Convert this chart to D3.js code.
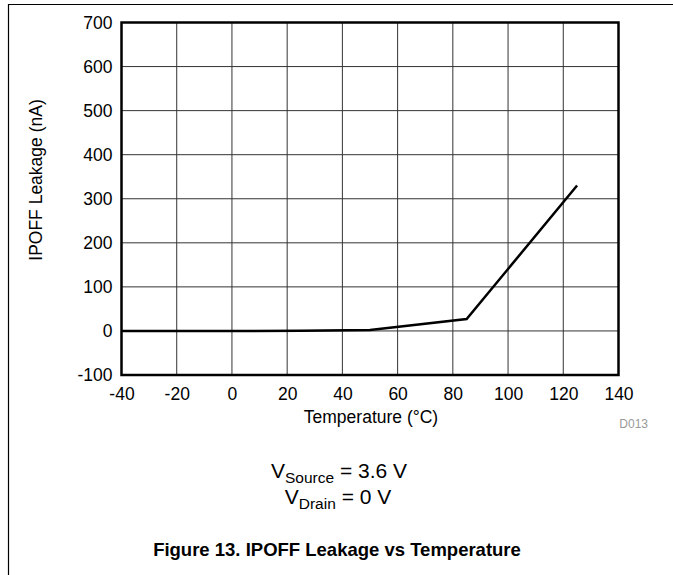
<!DOCTYPE html>
<html>
<head>
<meta charset="utf-8">
<script src="https://cdn.jsdelivr.net/npm/d3@7"></script>
<style>
  html, body { margin: 0; padding: 0; background: #fff; }
  svg { display: block; font-family: "Liberation Sans", Arial, sans-serif; }
</style>
</head>
<body>
<svg id="chart" width="673" height="575"></svg>
<script>
const temperature = [-40, 0, 25, 50, 85, 125];
const leakage = [0, 0, 0.3, 2, 27, 330];
const xTicks = [-40, -20, 0, 20, 40, 60, 80, 100, 120, 140];
const yTicks = [-100, 0, 100, 200, 300, 400, 500, 600, 700];

const svg = d3.select("#chart");
const pLeft = 121.5, pRight = 618.5, pTop = 22.5, pBottom = 375;
const FONT = "Liberation Sans, Arial, sans-serif";

const x = d3.scaleLinear().domain([-40, 140]).range([pLeft, pRight]);
const y = d3.scaleLinear().domain([-100, 700]).range([pBottom, pTop]);

// page border (top and left)
svg.append("line").attr("x1", 8).attr("x2", 673).attr("y1", 4.5).attr("y2", 4.5)
  .attr("stroke", "#000").attr("stroke-width", 1.2);
svg.append("line").attr("x1", 8.5).attr("x2", 8.5).attr("y1", 4).attr("y2", 575)
  .attr("stroke", "#000").attr("stroke-width", 1.2);

// grid
const grid = svg.append("g");
grid.selectAll(".vx").data(xTicks.slice(1, -1)).enter().append("line")
  .attr("x1", d => x(d)).attr("x2", d => x(d)).attr("y1", pTop).attr("y2", pBottom)
  .attr("stroke", "#333").attr("stroke-width", 1);
grid.selectAll(".hy").data(yTicks.slice(1, -1)).enter().append("line")
  .attr("x1", pLeft).attr("x2", pRight).attr("y1", d => y(d)).attr("y2", d => y(d))
  .attr("stroke", "#333").attr("stroke-width", 1);

// axes (labels only)
const fmt = d => String(d);
const xAxis = d3.axisBottom(x).tickValues(xTicks).tickSize(0).tickPadding(13).tickFormat(fmt);
const gx = svg.append("g").attr("transform", `translate(0,${pBottom})`).call(xAxis);
gx.select(".domain").remove();
gx.selectAll("text").attr("font-size", 17.5).attr("fill", "#000").attr("font-family", FONT);

const yAxis = d3.axisLeft(y).tickValues(yTicks).tickSize(0).tickPadding(9).tickFormat(fmt);
const gy = svg.append("g").attr("transform", `translate(${pLeft},0)`).call(yAxis);
gy.select(".domain").remove();
gy.selectAll("text").attr("font-size", 17.5).attr("fill", "#000").attr("font-family", FONT);

// frame
svg.append("rect").attr("x", pLeft).attr("y", pTop).attr("width", pRight - pLeft).attr("height", pBottom - pTop)
  .attr("fill", "none").attr("stroke", "#000").attr("stroke-width", 2.5);

// data line
const line = d3.line().x((d, i) => x(temperature[i])).y(d => y(d));
svg.append("path").datum(leakage).attr("d", line)
  .attr("fill", "none").attr("stroke", "#000").attr("stroke-width", 2.5).attr("stroke-linejoin", "miter");

// axis titles
svg.append("text").attr("x", 371).attr("y", 423).attr("text-anchor", "middle")
  .attr("font-size", 17.5).text("Temperature (°C)");
svg.append("text").attr("transform", "translate(42,180) rotate(-90)").attr("text-anchor", "middle")
  .attr("font-size", 17.5).text("IPOFF Leakage (nA)");
svg.append("text").attr("x", 648).attr("y", 428).attr("text-anchor", "end")
  .attr("font-size", 12).attr("fill", "#999").text("D013");

// conditions
const t1 = svg.append("text").attr("x", 339).attr("y", 478).attr("text-anchor", "middle").attr("font-size", 21);
t1.append("tspan").text("V");
t1.append("tspan").attr("dy", 5).attr("font-size", 15.5).text("Source");
t1.append("tspan").attr("dy", -5).text(" = 3.6 V");
const t2 = svg.append("text").attr("x", 338).attr("y", 504).attr("text-anchor", "middle").attr("font-size", 21);
t2.append("tspan").text("V");
t2.append("tspan").attr("dy", 5).attr("font-size", 15.5).text("Drain");
t2.append("tspan").attr("dy", -5).text(" = 0 V");

// figure caption
svg.append("text").attr("x", 337).attr("y", 556).attr("text-anchor", "middle")
  .attr("font-size", 18.5).attr("font-weight", "bold").text("Figure 13. IPOFF Leakage vs Temperature");
</script>
</body>
</html>
